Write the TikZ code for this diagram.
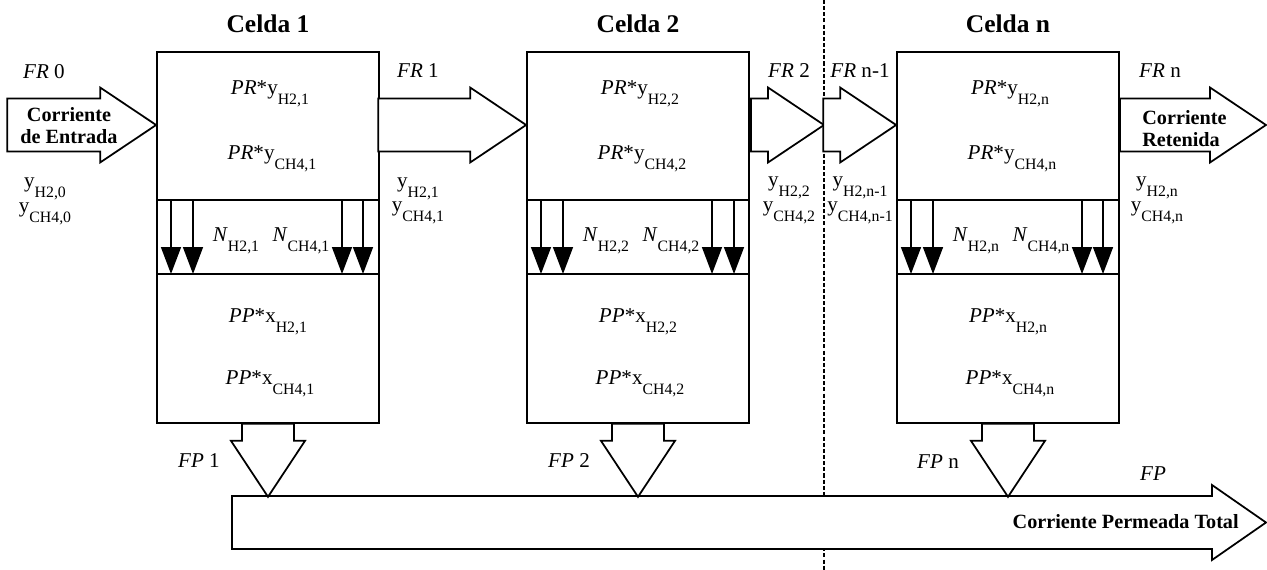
\documentclass[tikz,border=0pt]{standalone}
\usepackage{fontspec}
\setmainfont{Liberation Serif}
\usepackage{tikz}
\usetikzlibrary{arrows.meta,calc}

% lowered subscript as in the figure
\newcommand{\lsub}[1]{\raisebox{-5.3pt}{\fontsize{9}{9}\selectfont #1}}
% block arrows: tip coordinate, shaft length (px)
\newcommand{\blockR}[2]{\draw[blockarr] (#1) -- ++(-56,-37.5) -- ++(0,11) -- ++(-#2,0) -- ++(0,53) -- ++(#2,0) -- ++(0,11) -- cycle;}
\newcommand{\blockD}[2]{\draw[blockarr] (#1) -- ++(-37,-56) -- ++(11,0) -- ++(0,-#2) -- ++(52,0) -- ++(0,#2) -- ++(11,0) -- cycle;}

\begin{document}
\begin{tikzpicture}[
    x=0.02cm, y=-0.02cm,
    cell/.style={draw, line width=1pt, minimum width=4.44cm, minimum height=7.42cm, inner sep=0pt},
    blockarr/.style={draw, line width=1pt, fill=white},
    wall/.style={line width=1pt},
    flux/.style={-{Triangle[length=0.54cm, width=0.4cm]}, line width=0.9pt},
    lbl/.style={font=\fontsize{12}{14}\selectfont, inner sep=0pt, anchor=base},
    title/.style={font=\fontsize{14.5}{17}\selectfont\bfseries, inner sep=0pt, anchor=base},
    stream/.style={font=\fontsize{11.5}{12.5}\selectfont\bfseries, inner sep=0pt},
    cut/.style={line width=0.7pt, dash pattern=on 2.3pt off 1.2pt},
]
\useasboundingbox (0,0) rectangle (1267,570);

% Cells
\node[cell] (c1) at (268,237.5) {};
\node[cell] (c2) at (638,237.5) {};
\node[cell] (cn) at (1008,237.5) {};
\node[title] (t1) at (268,33) {Celda 1};
\node[title] (t2) at (638,33) {Celda 2};
\node[title] (tn) at (1008,33) {Celda n};

% Membranes
\foreach \c in {c1,c2,cn} {
  \draw[wall] (\c.west |- 0,200) -- (\c.east |- 0,200);
  \draw[wall] (\c.west |- 0,274) -- (\c.east |- 0,274);
}
\foreach \x in {171,193,342,363,541,563,712,734,911,933,1082,1103}
  \draw[flux] (\x,200) -- (\x,274);

% Separator
\coordinate (cuttop) at (824,0);
\coordinate (cutbot) at (824,570);
\draw[cut] (cuttop) -- (cutbot);

% Retentate side
\blockR{c1.west |- 0,125}{93}
\blockR{c2.west |- 0,125}{92}
\blockR{cuttop |- 0,125}{17}
\blockR{cn.west |- 0,125}{17}
\coordinate (outtip) at (1266,125);
\blockR{outtip}{90}
\node[stream, align=center] (inlet) at (69,126) {Corriente\\de Entrada};
\node[stream, align=left, anchor=west] (outlet) at (1142,129) {Corriente\\Retenida};

\node[lbl] (fr0) at (44,79) {\textit{FR} 0};
\node[lbl] (fr1) at (418,78) {\textit{FR} 1};
\node[lbl] (fr2) at (789,78) {\textit{FR} 2};
\node[lbl] (frm) at (860,78) {\textit{FR} n-1};
\node[lbl] (frn) at (1160,78) {\textit{FR} n};

\node[lbl] (yh0) at (45,188) {y\lsub{H2,0}};
\node[lbl] (yc0) at (45,213) {y\lsub{CH4,0}};
\node[lbl] (yh1) at (418,188) {y\lsub{H2,1}};
\node[lbl] (yc1) at (418,212) {y\lsub{CH4,1}};
\node[lbl] (yh2) at (789,187) {y\lsub{H2,2}};
\node[lbl] (yc2) at (789,212) {y\lsub{CH4,2}};
\node[lbl] (yhm) at (860,187) {y\lsub{H2,n-1}};
\node[lbl] (ycm) at (860,212) {y\lsub{CH4,n-1}};
\node[lbl] (yhn) at (1157,187) {y\lsub{H2,n}};
\node[lbl] (ycn) at (1157,212) {y\lsub{CH4,n}};

% Cell contents
\node[lbl] (pry1) at (270,95) {\textit{PR}*y\lsub{H2,1}};
\node[lbl] (prc1) at (272,160) {\textit{PR}*y\lsub{CH4,1}};
\node[lbl] (nh1) at (236,242) {\textit{N}\lsub{H2,1}};
\node[lbl] (nc1) at (301,242) {\textit{N}\lsub{CH4,1}};
\node[lbl] (ppx1) at (268,323) {\textit{PP}*x\lsub{H2,1}};
\node[lbl] (ppc1) at (270,385) {\textit{PP}*x\lsub{CH4,1}};

\node[lbl] (pry2) at (640,95) {\textit{PR}*y\lsub{H2,2}};
\node[lbl] (prc2) at (642,160) {\textit{PR}*y\lsub{CH4,2}};
\node[lbl] (nh2) at (606,242) {\textit{N}\lsub{H2,2}};
\node[lbl] (nc2) at (671,242) {\textit{N}\lsub{CH4,2}};
\node[lbl] (ppx2) at (638,323) {\textit{PP}*x\lsub{H2,2}};
\node[lbl] (ppc2) at (640,385) {\textit{PP}*x\lsub{CH4,2}};

\node[lbl] (pryn) at (1010,95) {\textit{PR}*y\lsub{H2,n}};
\node[lbl] (prcn) at (1012,160) {\textit{PR}*y\lsub{CH4,n}};
\node[lbl] (nhn) at (976,242) {\textit{N}\lsub{H2,n}};
\node[lbl] (ncn) at (1041,242) {\textit{N}\lsub{CH4,n}};
\node[lbl] (ppxn) at (1008,323) {\textit{PP}*x\lsub{H2,n}};
\node[lbl] (ppcn) at (1010,385) {\textit{PP}*x\lsub{CH4,n}};

% Permeate side
\draw[blockarr] (232,496) -- (1212,496) -- (1212,485) -- (1266,522.5) -- (1212,560) -- (1212,549) -- (232,549) -- cycle;
\coordinate (fp1) at ($(c1.south)+(0,73)$);
\coordinate (fp2) at ($(c2.south)+(0,73)$);
\coordinate (fpn) at ($(cn.south)+(0,73)$);
\blockD{fp1}{17}
\blockD{fp2}{17}
\blockD{fpn}{17}
\node[lbl] (lfp1) at (199,467) {\textit{FP} 1};
\node[lbl] (lfp2) at (569,467) {\textit{FP} 2};
\node[lbl] (lfpn) at (938,468) {\textit{FP} n};
\node[lbl] (lfp) at (1153,480) {\textit{FP}};
\node[stream, anchor=base east] (perm) at (1239,528) {Corriente Permeada Total};
\end{tikzpicture}
\end{document}
